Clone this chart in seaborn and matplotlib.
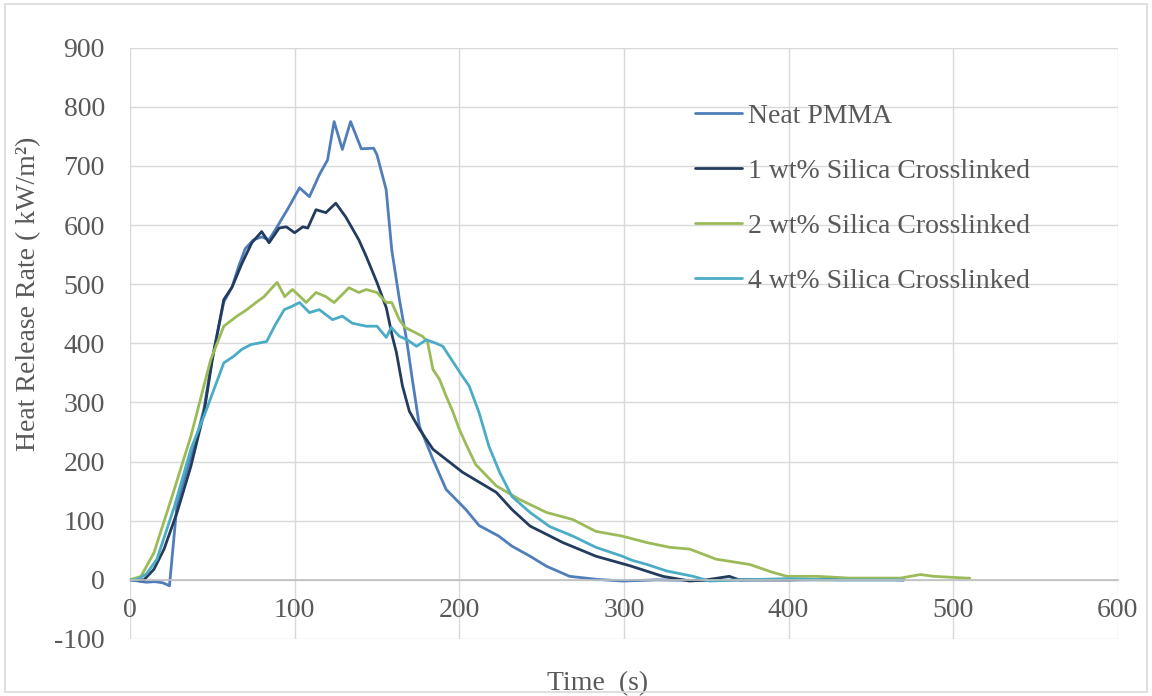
import matplotlib
matplotlib.use("Agg")
import matplotlib.pyplot as plt
import pandas as pd
import seaborn as sns
from matplotlib.patches import Rectangle

# ---------------- data ----------------
series_names = ["Neat PMMA", "1 wt% Silica Crosslinked",
                "2 wt% Silica Crosslinked", "4 wt% Silica Crosslinked"]

neat_t = [0, 5, 10, 15, 20, 24, 28.6, 33, 40, 45, 50, 57, 62, 66, 70, 75, 80, 84.5,
          90, 96, 103, 109, 115, 120, 124, 129, 134, 140.5, 148, 150, 155.6, 159,
          163.6, 168, 171.5, 175.8, 184, 192, 204, 212, 224, 232, 243, 253, 267, 283,
          299, 320, 346, 380, 420, 470]
neat_hrr = [0, -2, -4, -3, -5, -10, 128, 170, 235, 290, 375, 470, 495, 530, 560, 575,
            580, 575, 600, 628, 663, 648, 685, 710, 775, 728, 775, 729, 730, 719, 660,
            558, 475, 406, 339, 260, 204, 153, 119, 92, 74, 57, 40, 23, 6, 1,
            -2, 0, -1, 0, 0, 0]

wt1_t = [0, 5, 8.5, 14.6, 20.7, 28.6, 37, 45, 50, 57, 62, 68, 74, 80, 84.5, 90.6, 95,
         100, 105, 108, 113, 119, 125, 131, 139, 143.5, 150, 155.7, 159.4, 161.8,
         165.5, 169.7, 175.8, 184, 202, 222.5, 232, 243, 263, 283, 303.5, 323.6, 340,
         350, 364, 370, 400, 440, 470]
wt1_hrr = [0, 0, 0, 18, 52, 114, 192, 283, 372, 474, 495, 535, 570, 589, 570, 595, 597,
           587, 597, 595, 626, 621, 637, 614, 575, 547, 503, 460, 411, 385,
           328, 285, 255, 221, 182, 148, 119, 91, 63, 40, 24, 6, -2,
           0, 6, 0, 0, 2, 0]

wt2_t = [0, 6.7, 14.6, 25, 37, 49, 57, 65, 71, 77, 81.5, 85, 89.4, 94, 98.7, 103, 107,
         113, 119, 124, 128, 133, 139, 143.5, 150, 155.7, 159, 163.6, 167, 172, 177.6,
         180.7, 184, 188, 192, 196, 200, 204, 210, 222.5, 236.6, 253, 269, 283, 299,
         314, 328, 340, 356, 376.5, 390, 399, 417, 437, 450, 468, 480, 488, 508, 510]
wt2_hrr = [0, 6, 46, 136, 243, 372, 429, 446, 457, 470, 479, 490, 503, 479, 491, 480, 469,
           486, 479, 469, 480, 494, 486, 491, 486, 469, 469, 440, 427, 420, 412,
           403, 356, 339, 311, 285, 255, 230, 195, 159, 136, 114, 102, 82, 74,
           63, 55, 52, 35, 26, 13, 6, 6, 3, 3, 3, 9, 6, 3, 3]

wt4_t = [0, 4, 10, 16.4, 27, 37, 45, 51, 57, 63, 68, 73.6, 83, 88, 93.7, 98, 103, 109,
         115, 123, 129, 135, 143.5, 150, 155.7, 158.7, 163.6, 169, 174, 180, 186, 190,
         194, 202, 206, 212, 218, 224.5, 232, 243, 255, 269, 283, 299, 305, 314, 326,
         342, 352, 370, 400, 430, 470]
wt4_hrr = [0, 0, 10, 35, 124, 221, 277, 322, 367, 378, 390, 398, 403, 430, 457, 462, 469,
           452, 457, 440, 446, 434, 429, 429, 410, 427, 412, 405, 395, 406, 400, 395,
           378, 344, 328, 283, 226, 182, 141, 114, 90, 74, 55, 40, 33, 26, 15,
           6, -2, 0, 2, 0, 0]

series_times = [neat_t, wt1_t, wt2_t, wt4_t]
series_values = [neat_hrr, wt1_hrr, wt2_hrr, wt4_hrr]
series_colors = ["#4F7EBA", "#233C5E", "#9BBB59", "#4BACC6"]

x_ticks = [0, 100, 200, 300, 400, 500, 600]
y_ticks = [-100, 0, 100, 200, 300, 400, 500, 600, 700, 800, 900]

frames = []
for name, t, v in zip(series_names, series_times, series_values):
    frames.append(pd.DataFrame({"Time": t, "HRR": v, "Series": name}))
df = pd.concat(frames, ignore_index=True)

# ---------------- style ----------------
sns.set_theme(style="white")
plt.rcParams["font.family"] = ["Liberation Serif", "DejaVu Serif"]
plt.rcParams["axes.unicode_minus"] = False

fig = plt.figure(figsize=(11.52, 6.96), dpi=100)
ax = fig.add_axes([0.1128, 0.0819, 0.8576, 0.8496])

sns.lineplot(data=df, x="Time", y="HRR", hue="Series", hue_order=series_names,
             palette=dict(zip(series_names, series_colors)), sort=False,
             estimator=None, linewidth=2.0, ax=ax)

ax.set_xlim(0, 600)
ax.set_ylim(-100, 900)
ax.set_xticks(x_ticks)
ax.set_yticks(y_ticks)
ax.grid(True, color="#D9D9D9", linewidth=1.0)
ax.set_axisbelow(True)

for s in ["top", "right", "left"]:
    ax.spines[s].set_visible(False)
ax.spines["bottom"].set_position(("data", 0))
ax.spines["bottom"].set_color("#BFBFBF")
ax.spines["bottom"].set_linewidth(1.2)

ax.tick_params(axis="both", length=0, labelsize=20, colors="#595959")
ax.tick_params(axis="y", pad=18)
ax.tick_params(axis="x", pad=13)

ax.set_xlabel("Time  (s)", fontsize=20, color="#595959")
ax.set_ylabel("Heat Release Rate ( kW/m²)", fontsize=20, color="#595959")
ax.xaxis.set_label_coords(0.473, -0.055)
ax.yaxis.set_label_coords(-0.09, 0.583)

handles, labels = ax.get_legend_handles_labels()
leg = ax.legend(handles, labels, loc="upper left", bbox_to_anchor=(0.572, 0.906),
                frameon=False, fontsize=20, handlelength=1.7, handletextpad=0.2,
                labelspacing=1.07, borderpad=0, borderaxespad=0)
for txt in leg.get_texts():
    txt.set_color("#595959")

fig.add_artist(Rectangle((0.004, 0.006), 0.992, 0.988, transform=fig.transFigure,
                         fill=False, edgecolor="#D9D9D9", linewidth=1.2))

fig.savefig("out.png", dpi=100)
